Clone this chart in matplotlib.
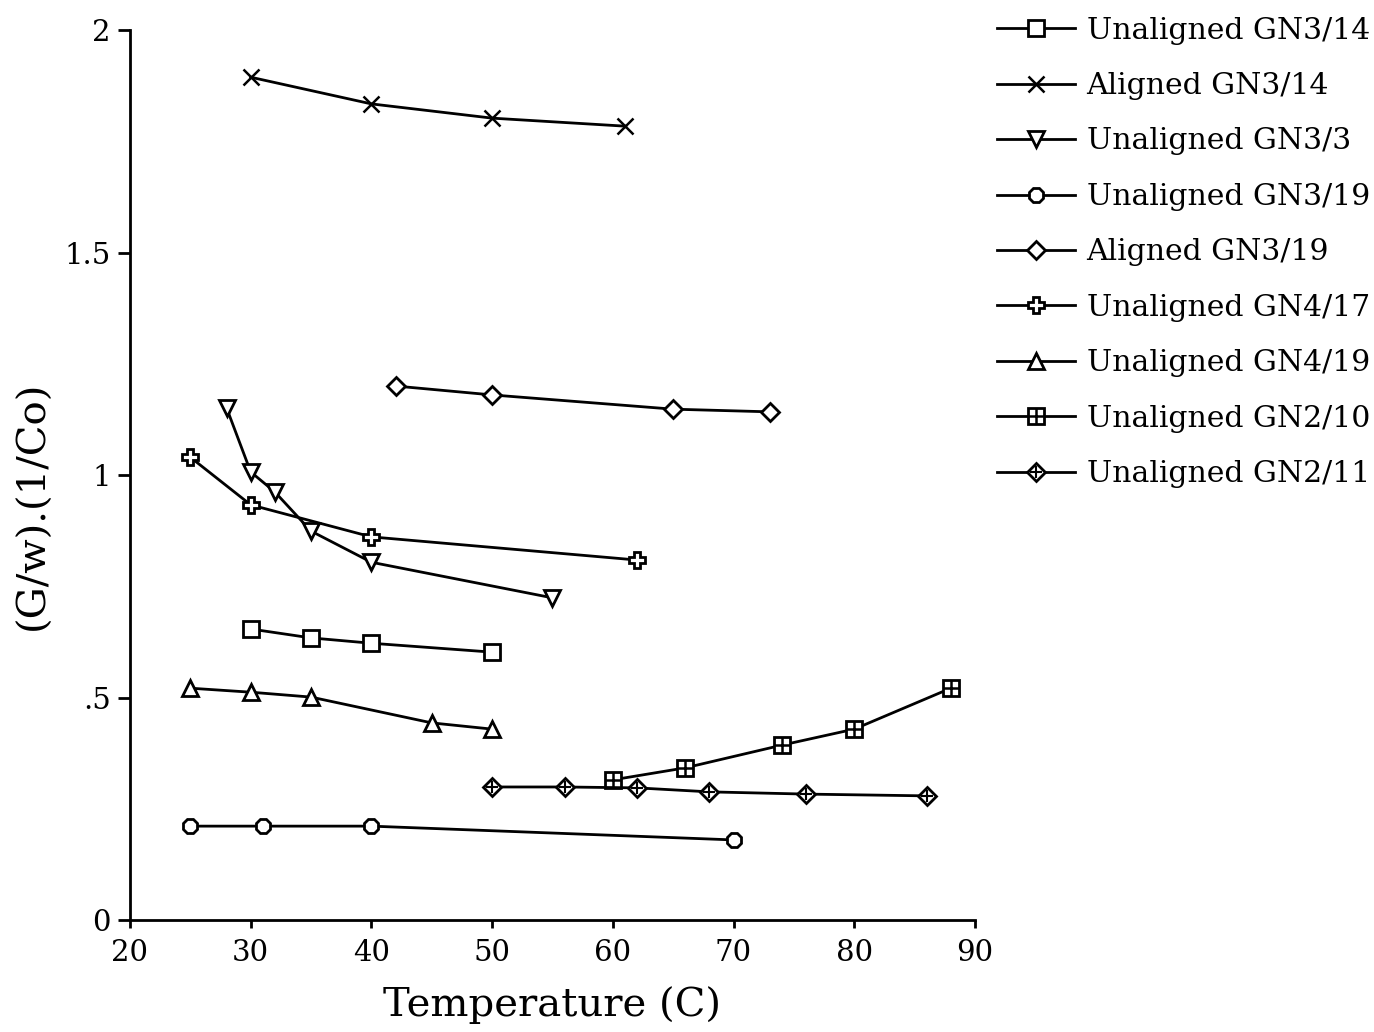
import numpy as np
import matplotlib
matplotlib.use("Agg")
import matplotlib.pyplot as plt
from matplotlib.legend_handler import HandlerTuple

plt.rcParams['font.family'] = ['DejaVu Serif']

# data
labels = ['Unaligned GN3/14', 'Aligned GN3/14', 'Unaligned GN3/3', 'Unaligned GN3/19',
          'Aligned GN3/19', 'Unaligned GN4/17', 'Unaligned GN4/19', 'Unaligned GN2/10',
          'Unaligned GN2/11']

t_u3_14 = [30, 35, 40, 50]
g_u3_14 = [0.654, 0.634, 0.622, 0.602]
t_a3_14 = [30, 40, 50, 61]
g_a3_14 = [1.894, 1.834, 1.802, 1.784]
t_u3_3 = [28, 30, 32, 35, 40, 55]
g_u3_3 = [1.151, 1.007, 0.962, 0.874, 0.804, 0.724]
t_u3_19 = [25, 31, 40, 70]
g_u3_19 = [0.211, 0.211, 0.211, 0.180]
t_a3_19 = [42, 50, 65, 73]
g_a3_19 = [1.200, 1.180, 1.148, 1.142]
t_u4_17 = [25, 30, 40, 62]
g_u4_17 = [1.040, 0.933, 0.861, 0.809]
t_u4_19 = [25, 30, 35, 45, 50]
g_u4_19 = [0.521, 0.512, 0.501, 0.443, 0.429]
t_u2_10 = [60, 66, 74, 80, 88]
g_u2_10 = [0.315, 0.342, 0.393, 0.429, 0.521]
t_u2_11 = [50, 56, 62, 68, 76, 86]
g_u2_11 = [0.299, 0.299, 0.297, 0.288, 0.283, 0.279]

fig = plt.figure(figsize=(13.74, 10.32), dpi=100)
ax = fig.add_axes([0.0946, 0.1085, 0.6150, 0.8624])

kw = dict(color='black', lw=2, mfc='white', mec='black', mew=2, ms=11)
handles = []

h, = ax.plot(t_u3_14, g_u3_14, marker='s', **kw); handles.append(h)
h, = ax.plot(t_a3_14, g_a3_14, marker='x', color='black', lw=2, mec='black', mew=1.8, ms=11); handles.append(h)
h, = ax.plot(t_u3_3, g_u3_3, marker='v', **kw); handles.append(h)
h, = ax.plot(t_u3_19, g_u3_19, marker='8', **kw); handles.append(h)
h, = ax.plot(t_a3_19, g_a3_19, marker='D', **{**kw, 'ms': 9}); handles.append(h)
h, = ax.plot(t_u4_17, g_u4_17, marker='P', **kw); handles.append(h)
h, = ax.plot(t_u4_19, g_u4_19, marker='^', **kw); handles.append(h)

# square / diamond with a cross inside
h1, = ax.plot(t_u2_10, g_u2_10, marker='s', **kw)
h2, = ax.plot(t_u2_10, g_u2_10, ls='none', marker='+', mec='black', mew=1.8, ms=11)
handles.append((h1, h2))
h1, = ax.plot(t_u2_11, g_u2_11, marker='D', **{**kw, 'ms': 9})
h2, = ax.plot(t_u2_11, g_u2_11, ls='none', marker='+', mec='black', mew=1.5, ms=8)
handles.append((h1, h2))

ax.set_xlim(20, 90)
ax.set_ylim(0, 2)
ax.set_xticks(range(20, 91, 10))
ax.set_yticks([0, 0.5, 1, 1.5, 2])
ax.set_yticklabels(['0', '.5', '1', '1.5', '2'])
ax.spines['top'].set_visible(False)
ax.spines['right'].set_visible(False)
ax.spines['left'].set_linewidth(2)
ax.spines['bottom'].set_linewidth(2)
ax.tick_params(width=2, labelsize=21, direction='out')
ax.tick_params(axis='y', length=9, pad=5)
ax.tick_params(axis='x', length=6, pad=8)
ax.set_xlabel('Temperature (C)', fontsize=29, va='center')
ax.set_ylabel('(G/w).(1/Co)', fontsize=29, va='center')
ax.xaxis.set_label_coords(0.5, -0.096)
ax.yaxis.set_label_coords(-0.115, 0.466)

fig.legend(handles, labels, loc='upper left', bbox_to_anchor=(0.706, 1.010),
           frameon=False, fontsize=21.5, handlelength=2.6, labelspacing=0.92,
           handletextpad=0.4, handler_map={tuple: HandlerTuple(ndivide=1)})

fig.savefig('out.png', dpi=100)
